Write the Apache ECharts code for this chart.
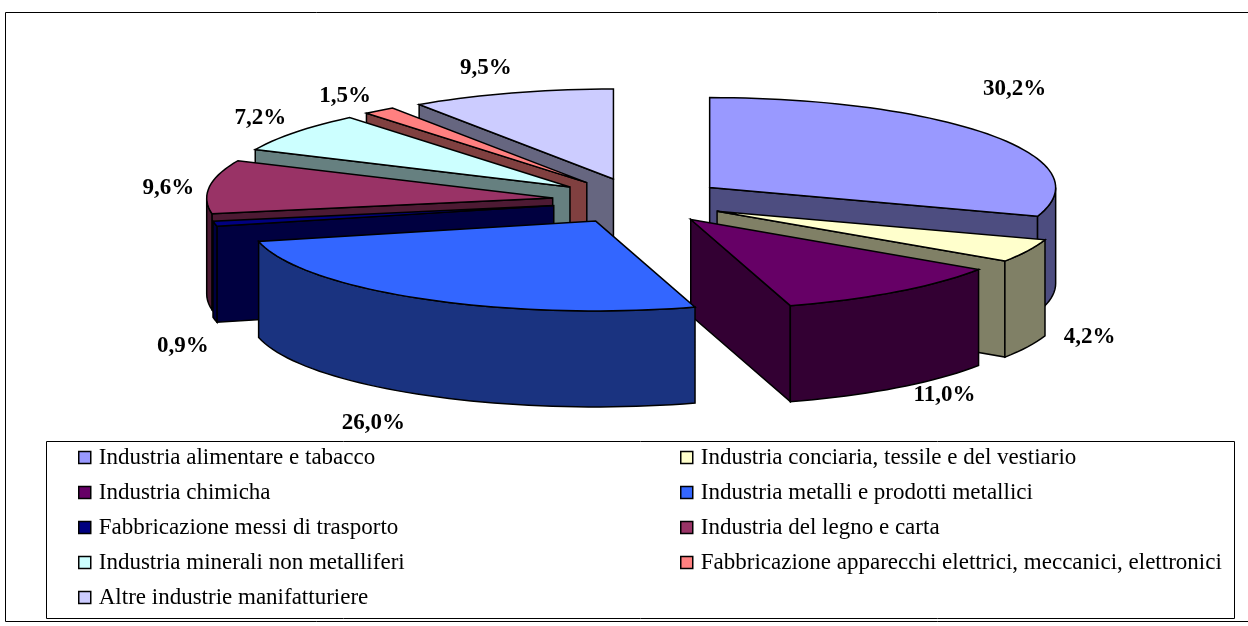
<!DOCTYPE html>
<html><head><meta charset="utf-8">
<style>html,body{margin:0;padding:0;background:#fff}#c{width:1248px;height:626px}</style>
<script src="https://cdn.jsdelivr.net/npm/echarts@6/dist/echarts.min.js"></script>
</head><body><div id="c"></div>
<script>
const categories = ['Industria alimentare e tabacco','Industria conciaria, tessile e del vestiario','Industria chimicha','Industria metalli e prodotti metallici','Fabbricazione messi di trasporto','Industria del legno e carta','Industria minerali non metalliferi','Fabbricazione apparecchi elettrici, meccanici, elettronici','Altre industrie manifatturiere'];
const values = [30.2,4.2,11.0,26.0,0.9,9.6,7.2,1.5,9.5];
const percentLabels = ['30,2%','4,2%','11,0%','26,0%','0,9%','9,6%','7,2%','1,5%','9,5%'];
const topColors = ['#9999FF','#FFFFCC','#660066','#3366FF','#000080','#993366','#CCFFFF','#FF8080','#CCCCFF'];
const sideColors = ['#4D4D80','#808066','#330033','#1A3380','#000040','#4D1A33','#668080','#804040','#666680'];
const drawOrder = [8,7,6,5,4,0,1,2,3];
const labelNudge = [[24,-46],[62,86],[48,103],[-49,124],[-32,122],[-41,1],[-35,-14],[-34,-15],[-26,-25]];

// projection of the tilted, exploded pie
const CX=639, CY=201, EX=87, EY=23, RX=346, RY=90, H=96;
const total = values.reduce((a,b)=>a+b,0);
const rad = d=>d*Math.PI/180;
function geom(i){
  const before = values.slice(0,i).reduce((a,b)=>a+b,0);
  const a0 = before/total*360, a1 = (before+values[i])/total*360, mid=(a0+a1)/2;
  const ax = CX+EX*Math.sin(rad(mid)), ay = CY-EY*Math.cos(rad(mid));
  const rim = a=>[ax+RX*Math.sin(rad(a)), ay-RY*Math.cos(rad(a))];
  return {a0,a1,mid,apex:[ax,ay],rim};
}
function arcPts(g,a,b){const n=Math.max(2,Math.ceil((b-a)/2)),p=[];for(let k=0;k<=n;k++)p.push(g.rim(a+(b-a)*k/n));return p;}
const down=p=>[p[0],p[1]+H];
function poly(points,fill,z2){return {type:'polygon',z2,shape:{points},style:{fill,stroke:'#000',lineWidth:1.5,lineJoin:'miter'}};}
function sliceRender(i){
  return function(params,api){
    const g=geom(i), side=sideColors[i], top=topColors[i], children=[];
    const s0=g.rim(g.a0), s1=g.rim(g.a1);
    if(Math.sin(rad(g.a0))<0) children.push(poly([g.apex,s0,down(s0),down(g.apex)],side,1));
    if(Math.sin(rad(g.a1))>0) children.push(poly([g.apex,s1,down(s1),down(g.apex)],side,1));
    const lo=Math.max(g.a0,90), hi=Math.min(g.a1,270);
    if(hi>lo){const t=arcPts(g,lo,hi);children.push(poly(t.concat(t.slice().reverse().map(down)),side,2));}
    children.push(poly([g.apex].concat(arcPts(g,g.a0,g.a1)),top,3));
    return {type:'group',children};
  };
}
const sliceSeries = drawOrder.map((i,k)=>({
  type:'custom',name:categories[i],coordinateSystem:'none',silent:true,z:10+k,
  itemStyle:{color:topColors[i]},data:[[values[i]]],renderItem:sliceRender(i),animation:false
}));
const labelSeries = {
  type:'custom',name:'Etichette',coordinateSystem:'none',silent:true,z:40,animation:false,
  data:values.map((v,i)=>[v,i]),
  renderItem(params,api){
    const i=api.value(1), p=geom(i).rim(geom(i).mid);
    return {type:'text',style:{text:percentLabels[i],x:p[0]+labelNudge[i][0],y:p[1]+labelNudge[i][1],
      fill:'#000',font:'bold 23px "Liberation Serif"',textAlign:'center',textVerticalAlign:'middle'}};
  }
};
const legendBase={orient:'vertical',itemGap:12,itemWidth:12,itemHeight:12,icon:'rect',padding:0,
  itemStyle:{borderColor:'#000',borderWidth:1.5},
  textStyle:{fontFamily:'Liberation Serif',fontSize:23,color:'#000',padding:[0,0,0,3],lineHeight:23},selectedMode:false,animation:false};
const chart=echarts.init(document.getElementById('c'),null,{renderer:'canvas'});
chart.setOption({
  animation:false,backgroundColor:'#fff',
  legend:[
    Object.assign({},legendBase,{left:78,top:446,data:categories.filter((c,i)=>i%2===0)}),
    Object.assign({},legendBase,{left:680,top:446,data:categories.filter((c,i)=>i%2===1)})
  ],
  graphic:[
    {type:'rect',silent:true,z:-1,shape:{x:5.5,y:12.5,width:1243,height:609},style:{fill:'#fff',stroke:'#000',lineWidth:1}},
    {type:'rect',silent:true,z:0,shape:{x:46.5,y:441.5,width:1188,height:177},style:{fill:'#fff',stroke:'#000',lineWidth:1}}
  ],
  series:sliceSeries.concat([labelSeries])
});
</script></body></html>
